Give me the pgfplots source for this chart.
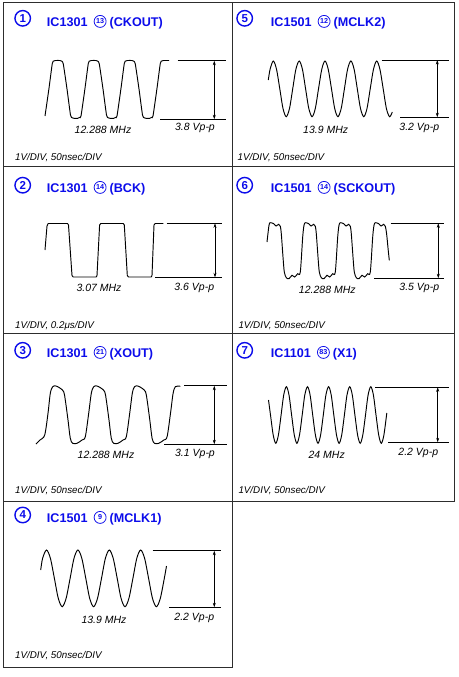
\documentclass[border=0pt]{standalone}
\usepackage{pgfplots}
\pgfplotsset{compat=1.18}
\usepackage{fontspec}
\setmainfont{Liberation Sans}
\usetikzlibrary{arrows.meta}
\definecolor{blu}{RGB}{12,12,235}
\definecolor{frame}{RGB}{45,45,45}

\tikzset{
  ttl/.style={font=\bfseries\fontsize{12.6}{14}\selectfont, text=blu, inner sep=0pt},
  lbl/.style={font=\itshape\fontsize{10.5}{12}\selectfont, inner sep=0pt, anchor=base},
  scl/.style={font=\itshape\fontsize{9.8}{12}\selectfont, inner sep=0pt, anchor=base west},
  bigc/.style={circle, draw=blu, line width=1.4pt, inner sep=0pt, minimum size=15.5pt,
               text=blu, font=\bfseries\fontsize{11.5}{12}\selectfont},
  smc/.style={circle, draw=blu, line width=0.75pt, inner sep=0pt, minimum size=12pt,
              text=blu, font=\bfseries\fontsize{7.2}{8}\selectfont},
}
\pgfplotsset{
  wave/.style={black, line width=0.95pt, mark=none},
  ref/.style={black, line width=0.75pt, mark=none},
  span/.style={black, line width=0.6pt, mark=none,
               arrows={Stealth[length=4.5pt,width=3pt]-Stealth[length=4.5pt,width=3pt]}},
}

% #1,#2 big circle; #3,#4 title baseline start; #5 digit; #6 IC; #7 pin; #8 signal
\newcommand{\celltitle}[8]{%
  \node[bigc] at (axis cs:#1,#2) {#5};
  \node[ttl, anchor=base west] (tA) at (axis cs:#3,#4) {#6};
  \node[smc, anchor=west, xshift=6pt, yshift=5.3pt] (tB) at (tA.base east) {#7};
  \node[ttl, anchor=base west, xshift=3pt] at (tB.east |- tA.base) {(#8)};
}

\begin{document}
\begin{tikzpicture}
\begin{axis}[scale only axis, width=458pt, height=677pt,
             xmin=0, xmax=458, ymin=0, ymax=677, y dir=reverse,
             hide axis, clip=false]

\path[fill=white] (axis cs:0,0) rectangle (axis cs:458,677);

% cell frames
\draw[frame, line width=1pt] (axis cs:3,3) rectangle (axis cs:454.5,501);
\draw[frame, line width=1pt] (axis cs:3,501) rectangle (axis cs:232.3,667);
\draw[frame, line width=1pt] (axis cs:232.3,3) -- (axis cs:232.3,501);
\draw[frame, line width=1pt] (axis cs:3,166) -- (axis cs:454.5,166);
\draw[frame, line width=1pt] (axis cs:3,333) -- (axis cs:454.5,333);

% titles
\celltitle{22.7}{18.3}{46.7}{26.7}{1}{IC1301}{13}{CKOUT}
\celltitle{244.7}{18.3}{270.7}{26.7}{5}{IC1501}{12}{MCLK2}
\celltitle{22.7}{185.2}{46.7}{192.7}{2}{IC1301}{14}{BCK}
\celltitle{244.7}{185.2}{270.7}{192.7}{6}{IC1501}{14}{SCKOUT}
\celltitle{22.7}{350.3}{46.7}{357.7}{3}{IC1301}{21}{XOUT}
\celltitle{244.7}{350.3}{270.7}{357.7}{7}{IC1101}{83}{X1}
\celltitle{22.7}{515.0}{46.7}{522.7}{4}{IC1501}{9}{MCLK1}

% (1) IC1301 CKOUT
\addplot[wave, smooth, tension=0.35] coordinates {
 (45.0,116.0) (48.9,89.0) (52.3,63.5) (53.8,61.0) (55.5,60.5) (60.0,60.5) (61.8,61.2) (63.3,64.0) (67.0,89.0) (70.5,115.0) (72.2,117.8) (74.0,118.3) (77.8,118.3) (79.6,117.4)
 (81.0,116.0) (84.9,89.0) (88.3,63.5) (89.8,61.0) (91.5,60.5) (96.0,60.5) (97.8,61.2) (99.3,64.0) (103.0,89.0) (106.5,115.0) (108.2,117.8) (110.0,118.3) (113.8,118.3) (115.6,117.4)
 (117.0,116.0) (120.9,89.0) (124.3,63.5) (125.8,61.0) (127.5,60.5) (132.0,60.5) (133.8,61.2) (135.3,64.0) (139.0,89.0) (142.5,115.0) (144.2,117.8) (146.0,118.3) (149.8,118.3) (151.6,117.4)
 (153.0,116.0) (156.9,89.0) (160.3,63.5) (161.8,61.0) (163.5,60.5) (169.0,60.5)};
\addplot[ref] coordinates {(177.5,60.7) (225.7,60.7)};
\addplot[ref] coordinates {(160.0,119.3) (225.7,119.3)};
\addplot[span] coordinates {(214.3,60.7) (214.3,119.3)};
\node[lbl] at (axis cs:103,133) {12.288 MHz};
\node[lbl] at (axis cs:195,130.7) {3.8 Vp-p};
\node[scl] at (axis cs:15,160) {1V/DIV, 50nsec/DIV};

% (5) IC1501 MCLK2
\addplot[wave, smooth] coordinates {
 (268.3,80.0) (270.1,69.2) (273.3,61.0) (276.5,69.2) (279.8,88.9) (283.0,108.5) (286.2,116.7) (289.5,108.5) (292.7,88.9) (295.9,69.2)
 (299.2,61.0) (302.4,69.2) (305.6,88.9) (308.8,108.5) (312.1,116.7) (315.3,108.5) (318.5,88.9) (321.8,69.2)
 (325.0,61.0) (328.2,69.2) (331.5,88.9) (334.7,108.5) (337.9,116.7) (341.2,108.5) (344.4,88.9) (347.6,69.2)
 (350.9,61.0) (354.1,69.2) (357.3,88.9) (360.5,108.5) (363.8,116.7) (367.0,108.5) (370.2,88.9) (373.5,69.2)
 (376.7,61.0) (379.9,69.2) (383.2,88.9) (386.4,108.5) (389.6,116.7) (392.3,112.0)};
\addplot[ref] coordinates {(381.7,60.0) (449.3,60.0)};
\addplot[ref] coordinates {(400.0,117.3) (449.3,117.3)};
\addplot[span] coordinates {(437.3,60.0) (437.3,117.3)};
\node[lbl] at (axis cs:325.7,133.3) {13.9 MHz};
\node[lbl] at (axis cs:419.3,130) {3.2 Vp-p};
\node[scl] at (axis cs:237.5,160) {1V/DIV, 50nsec/DIV};

% (2) IC1301 BCK
\addplot[wave] coordinates {
 (45.0,250.0) (47.0,226.0) (48.2,223.5) (67.5,223.5) (68.5,225.0) (72.0,275.5) (73.2,277.0) (96.2,277.0) (97.0,275.5)
 (99.6,225.0) (100.8,223.5) (123.3,223.5) (124.3,225.0) (127.3,275.5) (128.5,277.0) (151.2,277.0) (152.0,275.5)
 (154.0,225.0) (155.2,223.5) (163.3,223.5)};
\addplot[ref] coordinates {(166.7,223.3) (221.7,223.3)};
\addplot[ref] coordinates {(155.0,277.3) (221.7,277.3)};
\addplot[span] coordinates {(215.0,223.3) (215.0,277.3)};
\node[lbl] at (axis cs:99,291.7) {3.07 MHz};
\node[lbl] at (axis cs:194.3,290.7) {3.6 Vp-p};
\node[scl] at (axis cs:15,328.3) {1V/DIV, 0.2μs/DIV};

% (6) IC1501 SCKOUT
\addplot[wave, smooth, tension=0.5] coordinates {
 (267.0,242.0) (269.0,225.3) (270.3,222.7) (273.7,223.7) (276.0,226.0) (278.7,224.3) (280.3,226.3) (281.3,233.7) (283.0,257.0) (284.3,272.0) (286.3,277.7) (289.0,278.7) (292.0,275.3) (294.7,277.0) (297.7,273.7)
 (300.3,272.0) (302.7,237.0) (304.0,225.3) (305.3,222.7) (308.7,223.7) (311.0,226.0) (313.7,224.3) (315.3,226.3) (316.3,233.7) (318.0,257.0) (319.3,272.0) (321.3,277.7) (324.0,278.7) (327.0,275.3) (329.7,277.0) (332.7,273.7)
 (335.3,272.0) (337.7,237.0) (339.0,225.3) (340.3,222.7) (343.7,223.7) (346.0,226.0) (348.7,224.3) (350.3,226.3) (351.3,233.7) (353.0,257.0) (354.3,272.0) (356.3,277.7) (359.0,278.7) (362.0,275.3) (364.7,277.0) (367.7,273.7)
 (370.3,272.0) (372.7,237.0) (374.0,225.3) (375.3,222.7) (378.7,223.7) (381.0,226.0) (383.7,224.3) (385.3,226.3) (386.6,233.7) (388.2,250.0) (389.3,260.3)};
\addplot[ref] coordinates {(390.7,223.3) (444.3,223.3)};
\addplot[ref] coordinates {(374.0,278.3) (444.3,278.3)};
\addplot[span] coordinates {(438.3,223.3) (438.3,278.3)};
\node[lbl] at (axis cs:327.3,293.3) {12.288 MHz};
\node[lbl] at (axis cs:419.3,290.7) {3.5 Vp-p};
\node[scl] at (axis cs:238.3,328.3) {1V/DIV, 50nsec/DIV};

% (3) IC1301 XOUT
\addplot[wave, smooth, tension=0.5] coordinates {
 (36.0,444.0) (40.0,440.0) (44.7,435.0) (48.0,413.3) (50.3,393.3)
 (52.7,386.7) (56.0,386.0) (60.3,388.3) (63.7,391.7) (65.3,400.0) (68.0,420.0) (70.3,438.3) (72.7,443.3) (77.0,443.3) (82.0,440.0) (85.3,436.7) (88.7,413.3) (91.3,393.3)
 (93.7,386.7) (97.0,386.0) (101.3,388.3) (104.7,391.7) (106.3,400.0) (109.0,420.0) (111.3,438.3) (113.7,443.3) (118.0,443.3) (123.0,440.0) (126.3,436.7) (129.7,413.3) (132.3,393.3)
 (134.5,386.7) (137.8,386.0) (142.1,388.3) (145.5,391.7) (147.1,400.0) (149.8,420.0) (152.1,438.3) (154.5,443.3) (158.8,443.3) (163.8,440.0) (167.1,436.7) (170.5,413.3) (173.1,393.3)
 (175.3,386.7) (178.0,386.0) (180.3,386.3)};
\addplot[ref] coordinates {(184.3,385.7) (226.7,385.7)};
\addplot[ref] coordinates {(164.3,444.3) (226.7,444.3)};
\addplot[span] coordinates {(214.3,385.7) (214.3,444.3)};
\node[lbl] at (axis cs:106,458.3) {12.288 MHz};
\node[lbl] at (axis cs:195,456.7) {3.1 Vp-p};
\node[scl] at (axis cs:15,493.3) {1V/DIV, 50nsec/DIV};

% (7) IC1101 X1
\addplot[wave, smooth] coordinates {
 (268.5,400.0) (270.5,415.0) (273.2,435.0)
 (275.8,443.3) (278.4,435.0) (281.1,415.0) (283.7,395.0) (286.4,386.7) (289.0,395.0) (291.6,415.0) (294.3,435.0)
 (296.9,443.3) (299.5,435.0) (302.2,415.0) (304.8,395.0) (307.5,386.7) (310.1,395.0) (312.7,415.0) (315.4,435.0)
 (318.0,443.3) (320.6,435.0) (323.3,415.0) (325.9,395.0) (328.6,386.7) (331.2,395.0) (333.8,415.0) (336.5,435.0)
 (339.1,443.3) (341.7,435.0) (344.4,415.0) (347.0,395.0) (349.7,386.7) (352.3,395.0) (354.9,415.0) (357.6,435.0)
 (360.2,443.3) (362.8,435.0) (365.5,415.0) (368.1,395.0) (370.8,386.7) (373.4,395.0) (376.0,415.0) (378.7,435.0)
 (381.3,443.3) (383.9,435.0) (386.8,413.0)};
\addplot[ref] coordinates {(375.0,387.3) (449.3,387.3)};
\addplot[ref] coordinates {(388.3,442.3) (449.3,442.3)};
\addplot[span] coordinates {(437.7,387.3) (437.7,442.3)};
\node[lbl] at (axis cs:326.7,458.3) {24 MHz};
\node[lbl] at (axis cs:418.3,455) {2.2 Vp-p};
\node[scl] at (axis cs:238.3,493.3) {1V/DIV, 50nsec/DIV};

% (4) IC1501 MCLK1
\addplot[wave, smooth] coordinates {
 (40.7,570.0) (42.6,558.3)
 (46.5,550.0) (50.4,558.3) (54.4,578.4) (58.3,598.4) (62.2,606.7) (66.1,598.4) (70.1,578.4) (74.0,558.3)
 (77.9,550.0) (81.8,558.3) (85.8,578.4) (89.7,598.4) (93.6,606.7) (97.5,598.4) (101.5,578.4) (105.4,558.3)
 (109.3,550.0) (113.2,558.3) (117.2,578.4) (121.1,598.4) (125.0,606.7) (128.9,598.4) (132.9,578.4) (136.8,558.3)
 (140.7,550.0) (144.6,558.3) (148.6,578.4) (152.5,598.4) (156.4,606.7) (160.3,598.4) (164.3,578.4) (166.5,566.0)};
\addplot[ref] coordinates {(152.7,550.7) (221.0,550.7)};
\addplot[ref] coordinates {(169.3,607.3) (221.0,607.3)};
\addplot[span] coordinates {(214.3,550.7) (214.3,607.3)};
\node[lbl] at (axis cs:104,623.3) {13.9 MHz};
\node[lbl] at (axis cs:194.3,620) {2.2 Vp-p};
\node[scl] at (axis cs:15,658.3) {1V/DIV, 50nsec/DIV};

\end{axis}
\end{tikzpicture}
\end{document}
